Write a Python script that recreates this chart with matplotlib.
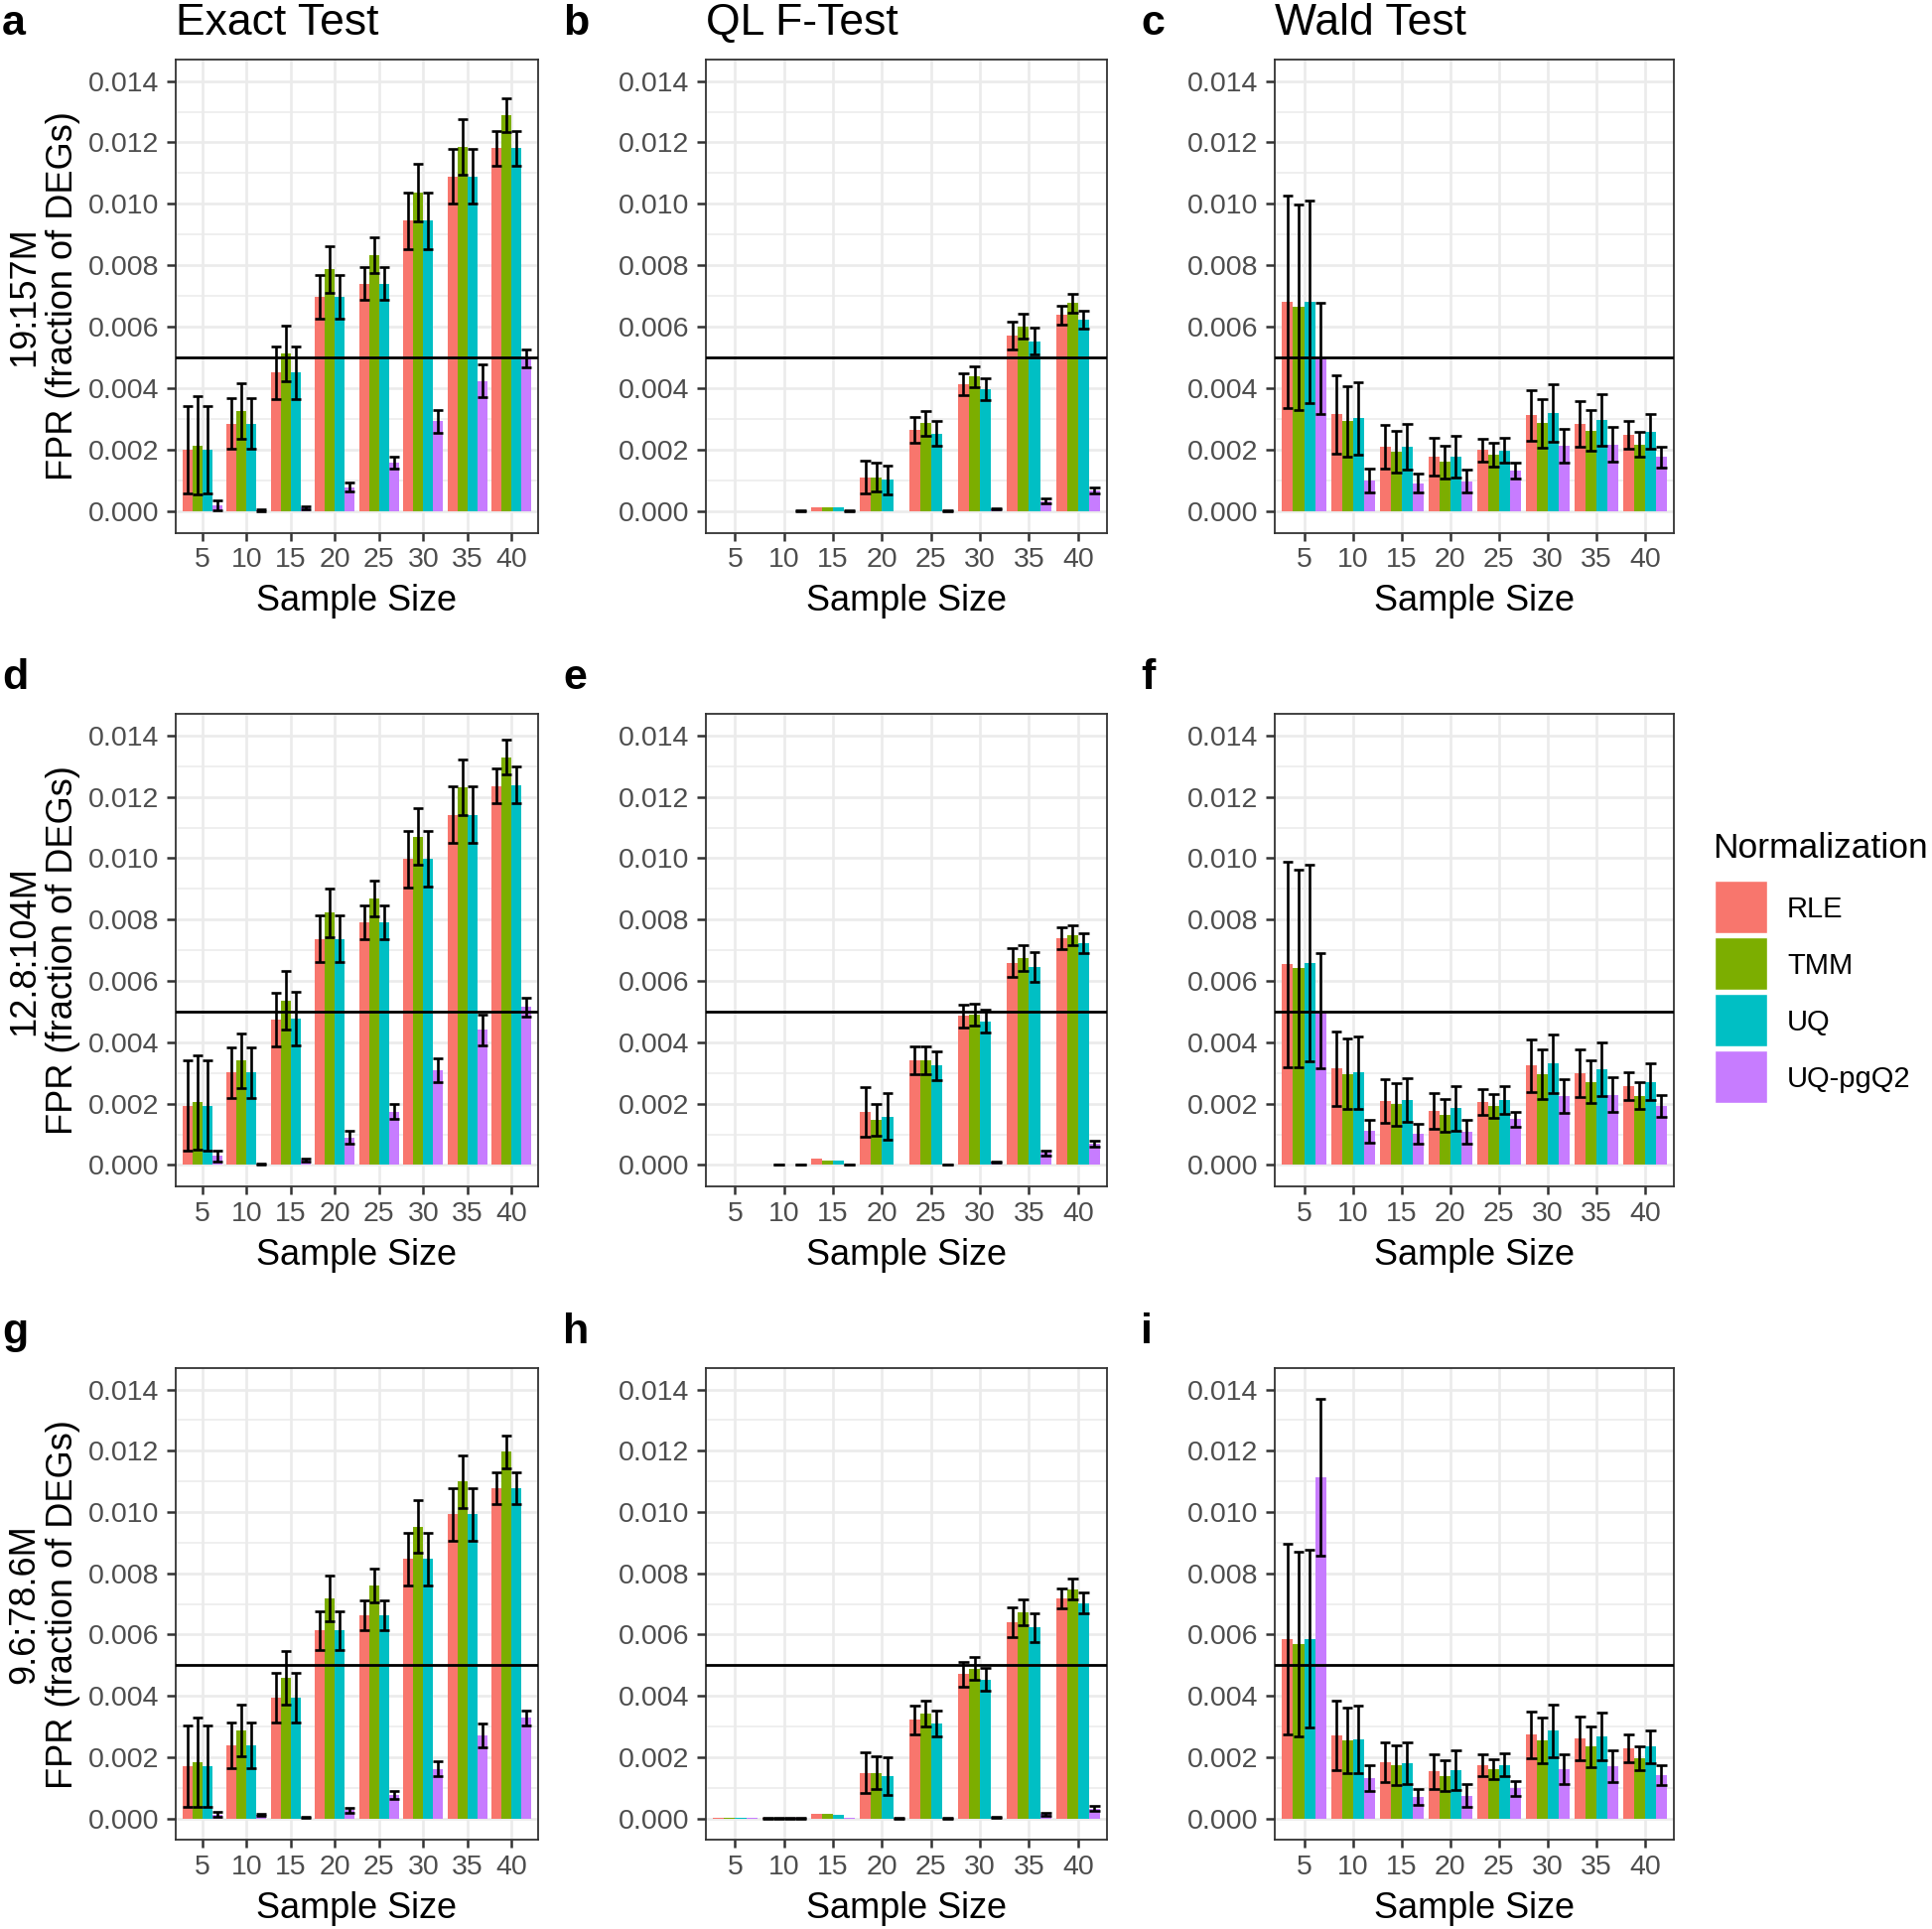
import numpy as np
import matplotlib
matplotlib.use("Agg")
import matplotlib.pyplot as plt
from matplotlib.patches import Rectangle
from matplotlib.ticker import MultipleLocator

plt.rcParams['font.family'] = ['Liberation Sans', 'DejaVu Sans']

nan = np.nan
sample_sizes = ['5', '10', '15', '20', '25', '30', '35', '40']
methods = ['RLE', 'TMM', 'UQ', 'UQ-pgQ2']
colors = ['#F8766D', '#7CAE00', '#00BFC4', '#C77CFF']
tests = ['Exact Test', 'QL F-Test', 'Wald Test']
depths = ['19:157M', '12.8:104M', '9.6:78.6M']
panel_letters = ['a', 'b', 'c', 'd', 'e', 'f', 'g', 'h', 'i']
threshold = 0.005

# ---- panel a (Exact Test, 19:157M): rows = RLE, TMM, UQ, UQ-pgQ2
fpr_a = [[0.00200, 0.00285, 0.00451, 0.00697, 0.00741, 0.00945, 0.01089, 0.01181],
         [0.00214, 0.00326, 0.00514, 0.00787, 0.00833, 0.01036, 0.01186, 0.01289],
         [0.00200, 0.00285, 0.00451, 0.00697, 0.00741, 0.00945, 0.01089, 0.01181],
         [0.00020, 0.00003, 0.00012, 0.00079, 0.00158, 0.00293, 0.00424, 0.00498]]
err_a = [[0.00143, 0.00082, 0.00086, 0.00071, 0.00054, 0.00092, 0.00089, 0.00057],
         [0.00160, 0.00090, 0.00091, 0.00075, 0.00059, 0.00093, 0.00091, 0.00056],
         [0.00143, 0.00082, 0.00086, 0.00071, 0.00054, 0.00092, 0.00089, 0.00057],
         [0.00017, 0.00002, 0.00005, 0.00015, 0.00020, 0.00037, 0.00053, 0.00030]]

# ---- panel b (QL F-Test, 19:157M)
fpr_b = [[0, 0, 0.00013, 0.00111, 0.00264, 0.00414, 0.00572, 0.00638],
         [0, 0, 0.00013, 0.00111, 0.00286, 0.00438, 0.00602, 0.00678],
         [0, 0, 0.00013, 0.00102, 0.00253, 0.00398, 0.00554, 0.00622],
         [0, 0.00001, 0.00001, 0, 0.00001, 0.00008, 0.00034, 0.00068]]
err_b = [[nan, nan, nan, 0.00053, 0.00042, 0.00036, 0.00046, 0.00032],
         [nan, nan, nan, 0.00046, 0.00039, 0.00033, 0.00040, 0.00031],
         [nan, nan, nan, 0.00048, 0.00040, 0.00036, 0.00042, 0.00029],
         [nan, 0.00001, 0.00001, nan, 0.00001, 0.00002, 0.00008, 0.00010]]

# ---- panel c (Wald Test, 19:157M)
fpr_c = [[0.00682, 0.00316, 0.00210, 0.00177, 0.00200, 0.00312, 0.00283, 0.00249],
         [0.00664, 0.00293, 0.00194, 0.00161, 0.00185, 0.00286, 0.00262, 0.00218],
         [0.00682, 0.00303, 0.00210, 0.00178, 0.00198, 0.00319, 0.00297, 0.00260],
         [0.00497, 0.00100, 0.00091, 0.00098, 0.00132, 0.00214, 0.00218, 0.00177]]
err_c = [[0.00345, 0.00127, 0.00072, 0.00061, 0.00037, 0.00083, 0.00074, 0.00045],
         [0.00333, 0.00115, 0.00069, 0.00053, 0.00038, 0.00079, 0.00066, 0.00041],
         [0.00330, 0.00118, 0.00074, 0.00069, 0.00040, 0.00093, 0.00084, 0.00058],
         [0.00181, 0.00038, 0.00031, 0.00038, 0.00025, 0.00055, 0.00058, 0.00034]]

# ---- panel d (Exact Test, 12.8:104M)
fpr_d = [[0.00193, 0.00301, 0.00473, 0.00737, 0.00790, 0.00997, 0.01142, 0.01236],
         [0.00205, 0.00341, 0.00536, 0.00823, 0.00869, 0.01071, 0.01231, 0.01329],
         [0.00193, 0.00301, 0.00478, 0.00737, 0.00790, 0.00998, 0.01142, 0.01239],
         [0.00030, 0.00003, 0.00017, 0.00090, 0.00174, 0.00309, 0.00440, 0.00515]]
err_d = [[0.00147, 0.00083, 0.00088, 0.00076, 0.00055, 0.00092, 0.00093, 0.00057],
         [0.00154, 0.00089, 0.00095, 0.00079, 0.00059, 0.00091, 0.00090, 0.00056],
         [0.00147, 0.00083, 0.00088, 0.00076, 0.00055, 0.00092, 0.00093, 0.00059],
         [0.00018, 0.00002, 0.00005, 0.00020, 0.00025, 0.00040, 0.00051, 0.00030]]

# ---- panel e (QL F-Test, 12.8:104M)
fpr_e = [[0, 0.00002, 0.00020, 0.00172, 0.00341, 0.00486, 0.00660, 0.00740],
         [0, 0.00001, 0.00015, 0.00147, 0.00341, 0.00489, 0.00674, 0.00750],
         [0, 0.00001, 0.00016, 0.00158, 0.00324, 0.00469, 0.00645, 0.00724],
         [0, 0.00001, 0.00001, 0, 0.00001, 0.00010, 0.00039, 0.00070]]
err_e = [[nan, nan, nan, 0.00081, 0.00046, 0.00038, 0.00048, 0.00035],
         [nan, 0.00001, nan, 0.00053, 0.00046, 0.00036, 0.00043, 0.00033],
         [nan, nan, nan, 0.00075, 0.00047, 0.00038, 0.00048, 0.00033],
         [nan, 0.00001, 0.00001, nan, 0.00001, 0.00002, 0.00007, 0.00010]]

# ---- panel f (Wald Test, 12.8:104M)
fpr_f = [[0.00655, 0.00314, 0.00209, 0.00176, 0.00206, 0.00324, 0.00299, 0.00258],
         [0.00641, 0.00297, 0.00198, 0.00162, 0.00193, 0.00295, 0.00271, 0.00226],
         [0.00658, 0.00301, 0.00213, 0.00185, 0.00211, 0.00330, 0.00312, 0.00271],
         [0.00503, 0.00110, 0.00103, 0.00107, 0.00149, 0.00225, 0.00229, 0.00192]]
err_f = [[0.00335, 0.00120, 0.00072, 0.00058, 0.00043, 0.00086, 0.00077, 0.00046],
         [0.00322, 0.00115, 0.00070, 0.00053, 0.00038, 0.00081, 0.00070, 0.00043],
         [0.00320, 0.00117, 0.00071, 0.00073, 0.00046, 0.00095, 0.00087, 0.00059],
         [0.00187, 0.00038, 0.00032, 0.00039, 0.00024, 0.00055, 0.00057, 0.00036]]

# ---- panel g (Exact Test, 9.6:78.6M)
fpr_g = [[0.00171, 0.00239, 0.00394, 0.00613, 0.00663, 0.00847, 0.00992, 0.01078],
         [0.00184, 0.00287, 0.00458, 0.00718, 0.00760, 0.00952, 0.01100, 0.01197],
         [0.00171, 0.00239, 0.00394, 0.00613, 0.00663, 0.00847, 0.00992, 0.01078],
         [0.00013, 0.00012, 0.00003, 0.00028, 0.00077, 0.00162, 0.00272, 0.00328]]
err_g = [[0.00133, 0.00074, 0.00080, 0.00064, 0.00050, 0.00086, 0.00086, 0.00053],
         [0.00145, 0.00085, 0.00088, 0.00075, 0.00055, 0.00086, 0.00086, 0.00054],
         [0.00133, 0.00074, 0.00080, 0.00064, 0.00050, 0.00086, 0.00086, 0.00053],
         [0.00008, 0.00003, 0.00002, 0.00008, 0.00013, 0.00025, 0.00039, 0.00025]]

# ---- panel h (QL F-Test, 9.6:78.6M)
fpr_h = [[0.00002, 0.00001, 0.00014, 0.00149, 0.00322, 0.00471, 0.00641, 0.00718],
         [0.00002, 0.00001, 0.00014, 0.00149, 0.00341, 0.00489, 0.00673, 0.00748],
         [0.00002, 0.00001, 0.00012, 0.00139, 0.00310, 0.00454, 0.00624, 0.00703],
         [0.00002, 0.00001, 0.00002, 0, 0, 0.00005, 0.00015, 0.00033]]
err_h = [[nan, 0.00001, nan, 0.00067, 0.00047, 0.00041, 0.00048, 0.00033],
         [nan, 0.00001, nan, 0.00053, 0.00042, 0.00037, 0.00042, 0.00034],
         [nan, 0.00001, nan, 0.00061, 0.00043, 0.00037, 0.00047, 0.00033],
         [nan, 0.00001, nan, 0.00001, 0.00001, 0.00002, 0.00005, 0.00008]]

# ---- panel i (Wald Test, 9.6:78.6M)
fpr_i = [[0.00586, 0.00270, 0.00184, 0.00154, 0.00174, 0.00274, 0.00261, 0.00229],
         [0.00570, 0.00255, 0.00174, 0.00139, 0.00162, 0.00255, 0.00235, 0.00197],
         [0.00586, 0.00257, 0.00181, 0.00158, 0.00175, 0.00286, 0.00268, 0.00235],
         [0.01113, 0.00133, 0.00071, 0.00075, 0.00098, 0.00161, 0.00171, 0.00142]]
err_i = [[0.00311, 0.00113, 0.00066, 0.00057, 0.00035, 0.00076, 0.00072, 0.00046],
         [0.00301, 0.00106, 0.00066, 0.00050, 0.00032, 0.00074, 0.00066, 0.00039],
         [0.00290, 0.00110, 0.00069, 0.00066, 0.00038, 0.00087, 0.00079, 0.00053],
         [0.00255, 0.00042, 0.00026, 0.00037, 0.00024, 0.00050, 0.00052, 0.00033]]

fprs = [fpr_a, fpr_b, fpr_c, fpr_d, fpr_e, fpr_f, fpr_g, fpr_h, fpr_i]
errs = [err_a, err_b, err_c, err_d, err_e, err_f, err_g, err_h, err_i]

# ---------------- layout (figure pixels) ----------------
W, H = 1946, 1943
DPI = 100
fig = plt.figure(figsize=(W / DPI, H / DPI), dpi=DPI)
fig.patch.set_facecolor('white')

col_x = [(177.0, 542.0), (710.8, 1115.4), (1284.1, 1686.3)]
row_y = [(59.9, 536.7), (719.2, 1195.1), (1377.9, 1853.3)]
letter_x = [2, 567, 1149]

grid_col = '#EBEBEB'
tick_col = '#4D4D4D'
frame_col = '#333333'
group_w = 0.9
bar_w = group_w / 4
cap_w = 0.22
elw = 1.9

for r in range(3):
    for c in range(3):
        k = r * 3 + c
        x0, x1 = col_x[c]
        yt, yb = row_y[r]
        ax = fig.add_axes([x0 / W, 1 - yb / H, (x1 - x0) / W, (yb - yt) / H])
        ax.set_axisbelow(True)
        xpos = np.arange(len(sample_sizes))
        for m in range(4):
            off = -group_w / 2 + bar_w * (m + 0.5)
            vals = np.array(fprs[k][m], dtype=float)
            ax.bar(xpos + off, vals, width=bar_w, color=colors[m],
                   linewidth=0, zorder=2)
        for m in range(4):
            off = -group_w / 2 + bar_w * (m + 0.5)
            vals = np.array(fprs[k][m], dtype=float)
            e = np.array(errs[k][m], dtype=float)
            ok = ~np.isnan(e)
            xs = (xpos + off)[ok]
            lo = (vals - e)[ok]
            hi = (vals + e)[ok]
            ax.vlines(xs, lo, hi, color='black', linewidth=elw, zorder=3)
            ax.hlines(lo, xs - cap_w / 2, xs + cap_w / 2, color='black',
                      linewidth=elw, zorder=3)
            ax.hlines(hi, xs - cap_w / 2, xs + cap_w / 2, color='black',
                      linewidth=elw, zorder=3)
        ax.axhline(threshold, color='black', linewidth=2.0, zorder=4)

        ax.set_xlim(-0.6, len(sample_sizes) - 1 + 0.6)
        ax.set_ylim(-0.0007, 0.0147)
        ax.set_xticks(xpos)
        ax.set_xticklabels(sample_sizes)
        ax.yaxis.set_major_locator(MultipleLocator(0.002))
        ax.yaxis.set_minor_locator(MultipleLocator(0.001))
        ax.yaxis.set_major_formatter(plt.FuncFormatter(lambda v, p: f"{v:.3f}"))
        ax.grid(True, which='major', axis='both', color=grid_col, linewidth=1.9)
        ax.grid(True, which='minor', axis='y', color=grid_col, linewidth=1.1)
        ax.tick_params(axis='x', which='major', length=6.0, width=1.8,
                       color=frame_col, labelcolor=tick_col, labelsize=20.5,
                       pad=4.5)
        ax.tick_params(axis='y', which='major', length=6.5, width=1.8,
                       color=frame_col, labelcolor=tick_col, labelsize=20.5,
                       pad=5.5)
        ax.tick_params(axis='y', which='minor', length=0)
        for s in ax.spines.values():
            s.set_color(frame_col)
            s.set_linewidth(1.3)
        ax.set_xlabel('Sample Size', fontsize=26, color='black', labelpad=8)

        # panel letter
        fig.text(letter_x[c] / W, 1 - (35 + 659.2 * r) / H, panel_letters[k],
                 fontsize=31, fontweight='bold', ha='left', va='baseline')
        if r == 0:
            fig.text(x0 / W, 1 - 35 / H, tests[c], fontsize=32,
                     ha='left', va='baseline')
        if c == 0:
            fig.text(44 / W, 1 - ((yt + yb) / 2) / H,
                     depths[r] + '\nFPR (fraction of DEGs)',
                     rotation=90, fontsize=26, ha='center', va='center',
                     multialignment='center', linespacing=1.12)

# ---------------- legend ----------------
fig.text(1725 / W, 1 - 854 / H, 'Normalization', fontsize=25.5,
         ha='left', va='center')
key_top = 887.0
key_step = 56.9
key_h = 53.0
key_w = 53.0
for m in range(4):
    ty = key_top + m * key_step
    fig.add_artist(Rectangle((1727 / W, 1 - (ty + key_h) / H), key_w / W,
                             key_h / H, transform=fig.transFigure,
                             facecolor=colors[m], edgecolor='white',
                             linewidth=1.0))
    fig.text(1800 / W, 1 - (ty + key_h / 2 + 3) / H, methods[m], fontsize=21,
             ha='left', va='center')

fig.savefig('out.png', dpi=DPI, facecolor='white')
